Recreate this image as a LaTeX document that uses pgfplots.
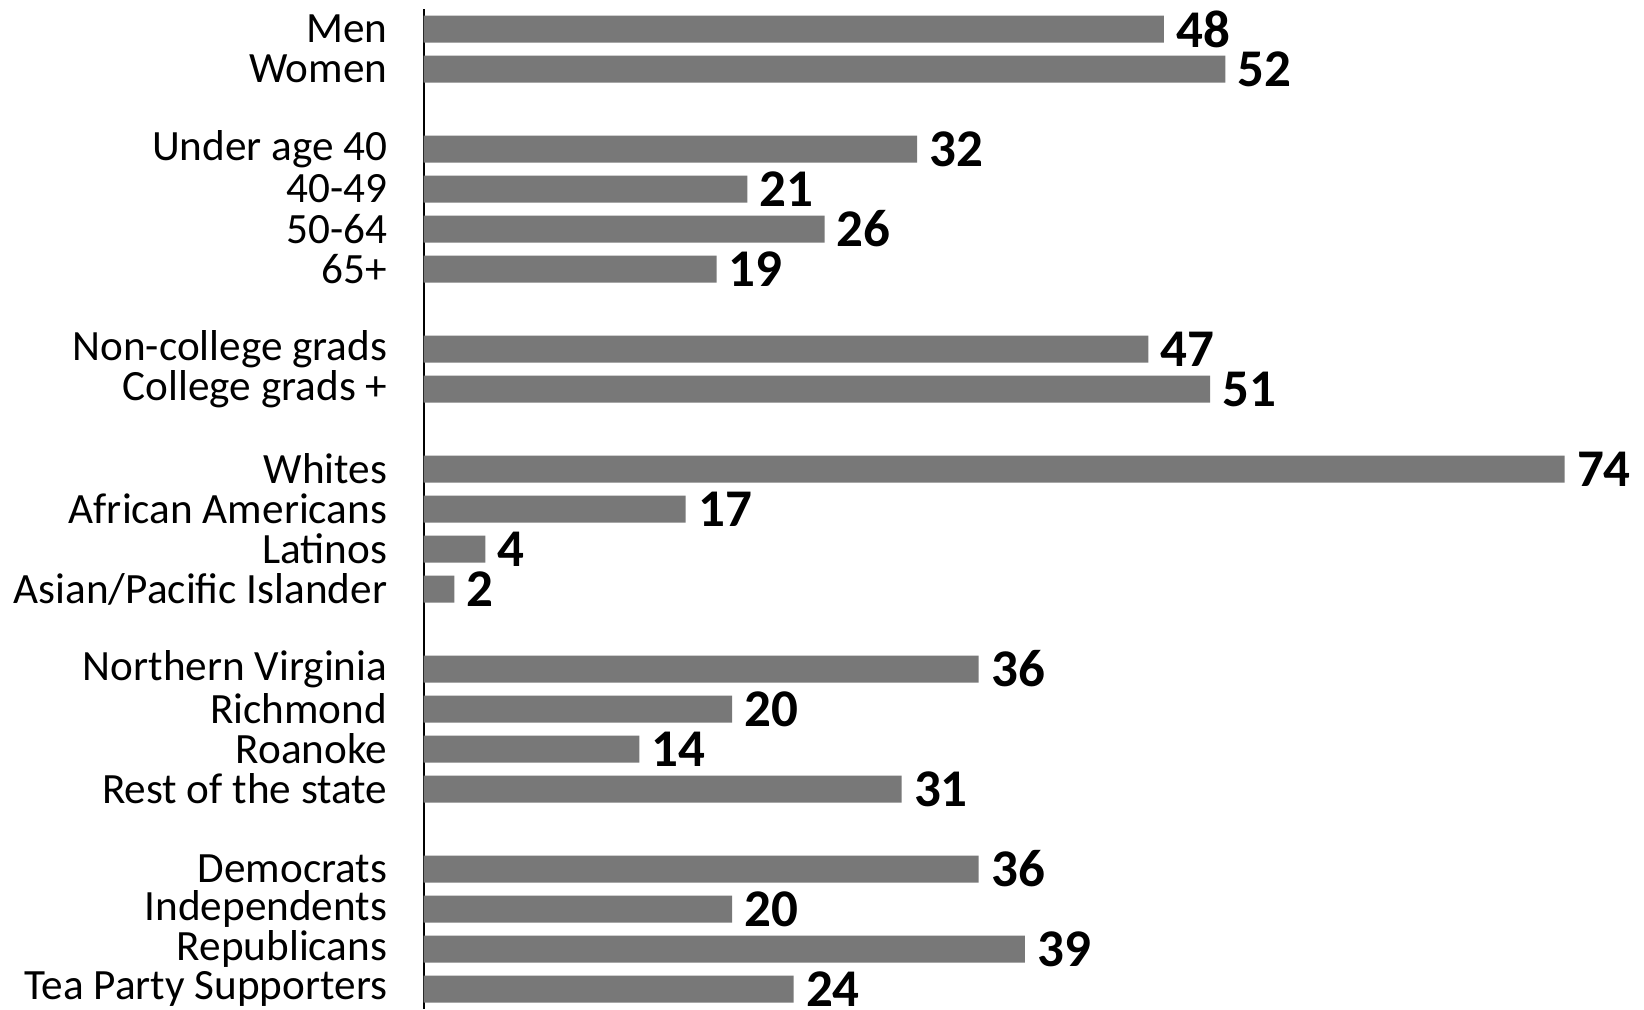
\documentclass[border=0pt]{standalone}
\usepackage{fontspec}
\setmainfont{Carlito}
\usepackage{pgfplots}
\pgfplotsset{compat=1.18}
\definecolor{barg}{RGB}{120,120,120}
\begin{document}
\begin{tikzpicture}
\path[use as bounding box] (-211.8pt,0pt) rectangle (610.2pt,504.5pt);
\begin{axis}[
  at={(0pt,0pt)}, anchor=south west,
  scale only axis,
  width=601.4pt, height=500pt,
  xmin=0, xmax=78,
  ymin=-0.5, ymax=24.5, y dir=reverse,
  axis x line=none,
  axis y line*=left,
  axis line style={black, line width=1pt},
  xbar, bar width=13.5pt,
  ytick={0,...,24},
  yticklabels={Men,Women,,Under age 40,40-49,50-64,65+,,Non-college grads\ ,College grads +,,Whites,African Americans,Latinos,Asian/Pacific Islander,,Northern Virginia,Richmond,Roanoke,Rest of the state,,Democrats,Independents,Republicans,Tea Party Supporters},
  ytick style={draw=none},
  major tick length=0pt,
  yticklabel style={font=\fontsize{21.6}{23}\selectfont, inner sep=0pt, anchor=east, xshift=-18pt},
  /pgf/number format/assume math mode=true,
  nodes near coords,
  nodes near coords style={font=\bfseries\fontsize{26.5}{28}\selectfont, anchor=west, inner sep=0pt, xshift=6pt, black},
  clip=false,
]
\addplot[xbar, fill=barg, draw=none, bar width=13.5pt] coordinates {
(48,0) (52,1) (32,3) (21,4) (26,5) (19,6) (47,8) (51,9) (74,11) (17,12) (4,13) (2,14) (36,16) (20,17) (14,18) (31,19) (36,21) (20,22) (39,23) (24,24)};
\end{axis}
\end{tikzpicture}
\end{document}
